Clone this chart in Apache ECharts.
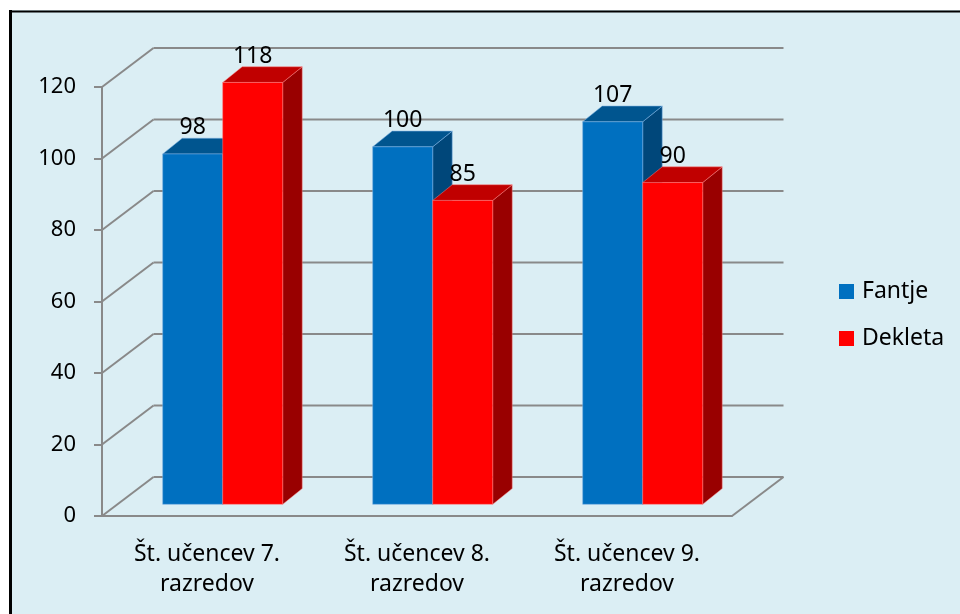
<!DOCTYPE html>
<html>
<head>
<meta charset="utf-8">
<script src="https://cdn.jsdelivr.net/npm/echarts@6/dist/echarts.min.js"></script>
<style>
html,body{margin:0;padding:0;background:#fff;}
#chart{width:960px;height:614px;}
</style>
</head>
<body>
<div id="chart"></div>
<script>
// data
const categories=["Št. učencev 7.\nrazredov","Št. učencev 8.\nrazredov","Št. učencev 9.\nrazredov"];
const fantje=[98,100,107];
const dekleta=[118,85,90];
const yTicks=[0,20,40,60,80,100,120];
const seriesNames=["Fantje","Dekleta"];

// 3d look
const WALL_X=51.5, WALL_Y=-39;     // depth of the whole box
const POS_X=15.7, POS_Y=-11.7;     // where bars stand in the depth
const DEP_X=19.5, DEP_Y=-15.7;     // depth of one bar
const BAR_FRAC=60/210;
const FONT='"Noto Sans", sans-serif';
const colors=[
    {front:"#0070C0",top:"#00558f",side:"#00477a",edge:"rgba(120,175,225,0.7)"},
    {front:"#FF0000",top:"#C00000",side:"#990000",edge:"rgba(255,130,130,0.6)"}
];
const gridColor="#898989";

const chart=echarts.init(document.getElementById("chart"));

function wallItem(params,api){
    const cs=params.coordSys;
    const v=api.value(1);
    const y=api.coord([0,v])[1];
    const x0=cs.x, x1=cs.x+cs.width;
    const lines=[
        [[x0,y],[x0+WALL_X,y+WALL_Y]],
        [[x0+WALL_X,y+WALL_Y],[x1+WALL_X,y+WALL_Y]]
    ];
    if(v===0){
        lines.push([[x1,y],[x1+WALL_X,y+WALL_Y]]);
    }
    return {
        type:"group",
        children:lines.map(l=>({
            type:"polyline",
            shape:{points:l},
            style:{stroke:gridColor,lineWidth:2,fill:null}
        }))
    };
}

function barItem(idx){
    return function(params,api){
        const cat=api.value(0), val=api.value(1);
        const c=api.coord([cat,val]);
        const base=api.coord([cat,0]);
        const w=api.size([1,0])[0]*BAR_FRAC;
        const x1=c[0]+POS_X+(idx===0?-w:0);
        const x2=x1+w;
        const yt=c[1]+POS_Y, yb=base[1]+POS_Y;
        const col=colors[idx];
        return {
            type:"group",
            children:[
                {type:"polygon",shape:{points:[[x2,yt],[x2+DEP_X,yt+DEP_Y],[x2+DEP_X,yb+DEP_Y],[x2,yb]]},
                    style:{fill:col.side,stroke:col.edge,lineWidth:0.8}},
                {type:"polygon",shape:{points:[[x1,yt],[x2,yt],[x2+DEP_X,yt+DEP_Y],[x1+DEP_X,yt+DEP_Y]]},
                    style:{fill:col.top,stroke:col.edge,lineWidth:0.8}},
                {type:"rect",shape:{x:x1,y:yt,width:w,height:yb-yt},
                    style:{fill:col.front,stroke:col.edge,lineWidth:0.8}},
                {type:"text",style:{text:String(val),x:(x1+x2)/2,y:yt+DEP_Y+1,
                    align:"center",verticalAlign:"bottom",fontSize:23,fontFamily:FONT,fill:"#000"}}
            ]
        };
    };
}

const option={
    backgroundColor:"#dbeef4",
    animation:false,
    grid:{left:102,top:87,width:630,height:429},
    legend:{
        orient:"vertical",left:839,top:280,padding:0,
        itemWidth:15,itemHeight:15,itemGap:24,icon:"rect",
        data:seriesNames,
        textStyle:{fontSize:23,fontFamily:FONT,color:"#000",padding:[0,0,0,3]}
    },
    xAxis:{
        type:"category",
        data:categories,
        axisLine:{lineStyle:{color:gridColor,width:2}},
        axisTick:{length:8,lineStyle:{color:gridColor,width:2}},
        axisLabel:{interval:0,fontSize:23,lineHeight:30,margin:23,color:"#000",fontFamily:FONT},
        splitLine:{show:false}
    },
    yAxis:{
        type:"value",min:0,max:120,interval:20,
        axisLine:{show:true,lineStyle:{color:gridColor,width:2}},
        axisTick:{show:true,length:8,lineStyle:{color:gridColor,width:2}},
        axisLabel:{fontSize:22,margin:26,color:"#000",fontFamily:FONT},
        splitLine:{show:false}
    },
    series:[
        {
            type:"custom",name:"walls",silent:true,z:1,
            renderItem:wallItem,
            data:yTicks.map(v=>[0,v])
        },
        {
            type:"custom",name:seriesNames[0],z:3,
            itemStyle:{color:colors[0].front},
            renderItem:barItem(0),
            data:fantje.map((v,i)=>[i,v])
        },
        {
            type:"custom",name:seriesNames[1],z:4,
            itemStyle:{color:colors[1].front},
            renderItem:barItem(1),
            data:dekleta.map((v,i)=>[i,v])
        }
    ],
    graphic:[
        {type:"rect",shape:{x:0,y:0,width:960,height:10},style:{fill:"#fff"},z:100},
        {type:"rect",shape:{x:0,y:0,width:9,height:614},style:{fill:"#fff"},z:100},
        {type:"line",shape:{x1:10.5,y1:10,x2:10.5,y2:614},style:{stroke:"#000",lineWidth:3},z:101},
        {type:"line",shape:{x1:9,y1:11.5,x2:960,y2:11.5},style:{stroke:"#000",lineWidth:2},z:101}
    ]
};
chart.setOption(option);
</script>
</body>
</html>
